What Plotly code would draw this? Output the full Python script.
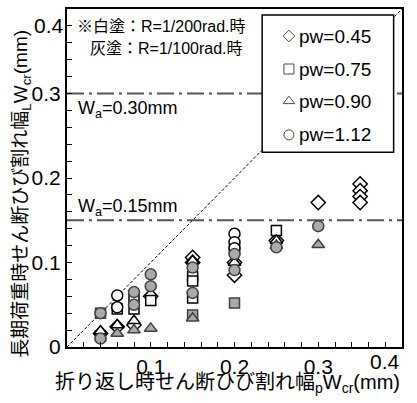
import plotly.graph_objects as go

# Crack widths (mm): x = width at load reversal, y = width under long-term load
# White fill: R=1/200rad, gray fill: R=1/100rad
d045_white_x = [0.04, 0.06, 0.08, 0.10, 0.15, 0.15, 0.20, 0.20, 0.25, 0.30, 0.35, 0.35, 0.35, 0.35]
d045_white_y = [0.016, 0.024, 0.026, 0.060, 0.106, 0.100, 0.085, 0.100, 0.126, 0.171, 0.193, 0.185, 0.178, 0.171]

d075_white_x = [0.04, 0.06, 0.08, 0.08, 0.10, 0.15, 0.15, 0.15, 0.20, 0.25]
d075_white_y = [0.013, 0.045, 0.058, 0.045, 0.055, 0.083, 0.078, 0.058, 0.115, 0.138]
d075_gray_x = [0.04, 0.15, 0.20]
d075_gray_y = [0.040, 0.038, 0.052]

d090_white_x = [0.04, 0.06, 0.08, 0.15, 0.20, 0.25]
d090_white_y = [0.019, 0.026, 0.031, 0.102, 0.100, 0.126]
d090_gray_x = [0.06, 0.08, 0.10, 0.15, 0.25, 0.30]
d090_gray_y = [0.016, 0.020, 0.022, 0.034, 0.120, 0.121]

d112_white_x = [0.06, 0.06, 0.20, 0.20, 0.20]
d112_white_y = [0.061, 0.047, 0.134, 0.124, 0.117]
d112_gray_x = [0.04, 0.04, 0.08, 0.08, 0.10, 0.10, 0.15, 0.15, 0.20, 0.20, 0.25, 0.30]
d112_gray_y = [0.040, 0.010, 0.065, 0.050, 0.086, 0.072, 0.094, 0.064, 0.110, 0.091, 0.118, 0.143]

legend_labels = ["pw=0.45", "pw=0.75", "pw=0.90", "pw=1.12"]
legend_symbols = ["diamond", "square", "triangle-up", "circle"]
legend_sizes = [9, 10, 10, 10]
legend_y = [0.368, 0.329, 0.291, 0.251]
wa_levels = [0.30, 0.15]
x_title = "折り返し時せん断ひび割れ幅<sub>p</sub>W<sub>cr</sub>(mm)"
y_title = "長期荷重時せん断ひび割れ幅<sub>L</sub>W<sub>cr</sub>(mm)"

FONT = "Liberation Sans, Arial, Noto Sans CJK JP"
GRAY = "#aaaaaa"
GRAY_LINE = "#404040"

fig = go.Figure()

def add(xs, ys, symbol, size, gray):
    fig.add_trace(go.Scatter(
        x=xs, y=ys, mode="markers", showlegend=False,
        marker=dict(symbol=symbol, size=size,
                    color=GRAY if gray else "white",
                    line=dict(color=GRAY_LINE if gray else "black", width=1.5))))

add(d045_white_x, d045_white_y, "diamond", 11, False)
add(d075_white_x, d075_white_y, "square", 10, False)
add(d090_white_x, d090_white_y, "triangle-up", 11, False)
add(d112_white_x, d112_white_y, "circle", 11, False)
add(d075_gray_x, d075_gray_y, "square", 10, True)
add(d090_gray_x, d090_gray_y, "triangle-up", 11, True)
add(d112_gray_x, d112_gray_y, "circle", 11, True)

shapes = []
# 1:1 line
shapes.append(dict(type="line", xref="x", yref="y", x0=0, y0=0, x1=0.4, y1=0.4,
                   line=dict(color="black", width=1, dash="3px,2px"), layer="below"))
for w in wa_levels:
    shapes.append(dict(type="line", xref="x", yref="y", x0=0, x1=0.4, y0=w, y1=w,
                       line=dict(color="#555555", width=2, dash="17px,5px,3px,5px"),
                       layer="below"))
# legend box (white fill hides the lines behind it)
shapes.append(dict(type="rect", xref="x", yref="y", x0=0.233, x1=0.390, y0=0.2306, y1=0.393,
                   fillcolor="white", line=dict(color="black", width=1.5), layer="below"))

# legend symbols, drawn on top of the box
fig.add_trace(go.Scatter(
    x=[0.265] * 4, y=legend_y, mode="markers", showlegend=False, hoverinfo="skip",
    marker=dict(symbol=legend_symbols, size=legend_sizes, color="white",
                line=dict(color="black", width=1))))

ann = []
ann.append(dict(x=0.0096, y=0.379, xref="x", yref="y", xanchor="left", yanchor="middle",
                text="※白塗：R=1/200rad.時", showarrow=False, font=dict(size=16)))
ann.append(dict(x=0.025, y=0.353, xref="x", yref="y", xanchor="left", yanchor="middle",
                text="灰塗：R=1/100rad.時", showarrow=False, font=dict(size=16)))
for w, yy in zip(wa_levels, [0.281, 0.165]):
    ann.append(dict(x=0.011, y=yy, xref="x", yref="y", xanchor="left", yanchor="middle",
                    text="W<sub>a</sub>=%.2fmm" % w, showarrow=False, font=dict(size=18)))
for lab, yy in zip(legend_labels, legend_y):
    ann.append(dict(x=0.2746, y=yy, xref="x", yref="y", xanchor="left", yanchor="middle",
                    text=lab, showarrow=False, font=dict(size=19)))
# end tick labels kept inside the canvas
ann.append(dict(x=0, y=0.4, xref="paper", yref="y", xanchor="right", yanchor="middle",
                yshift=-16, xshift=-1, text="0.4", showarrow=False, font=dict(size=21)))
ann.append(dict(x=0.4, y=0, xref="x", yref="paper", xanchor="right", yanchor="top",
                yshift=-1, text="0.4", showarrow=False, font=dict(size=21)))
ann.append(dict(x=0.48, y=-0.107, xref="paper", yref="paper", xanchor="center", yanchor="middle",
                text=x_title, showarrow=False, font=dict(size=20)))
ann.append(dict(x=-0.135, y=0.453, xref="paper", yref="paper", xanchor="center", yanchor="middle",
                text=y_title, textangle=-90, showarrow=False, font=dict(size=19)))

axis_common = dict(range=[0, 0.4], showgrid=False, zeroline=False, showline=True,
                   linecolor="black", linewidth=2, mirror=True,
                   ticks="inside", ticklen=5, tickwidth=1, tickcolor="black",
                   minor=dict(dtick=0.02, tick0=0, ticks="inside", ticklen=5, tickwidth=1,
                              tickcolor="black"),
                   tickfont=dict(size=21, color="black"))

fig.update_layout(
    width=417, height=403,
    margin=dict(l=67, r=15, t=7, b=56),
    paper_bgcolor="white", plot_bgcolor="white",
    font=dict(family=FONT, color="black"),
    xaxis=dict(axis_common, tickvals=[0.1, 0.2, 0.3], ticktext=["0.1", "0.2", "0.3"]),
    yaxis=dict(axis_common, tickvals=[0, 0.1, 0.2, 0.3], ticktext=["0", "0.1", "0.2", "0.3"],
               ticklabelstandoff=0),
    shapes=shapes, annotations=ann, showlegend=False,
)

fig.write_html("out.html")
